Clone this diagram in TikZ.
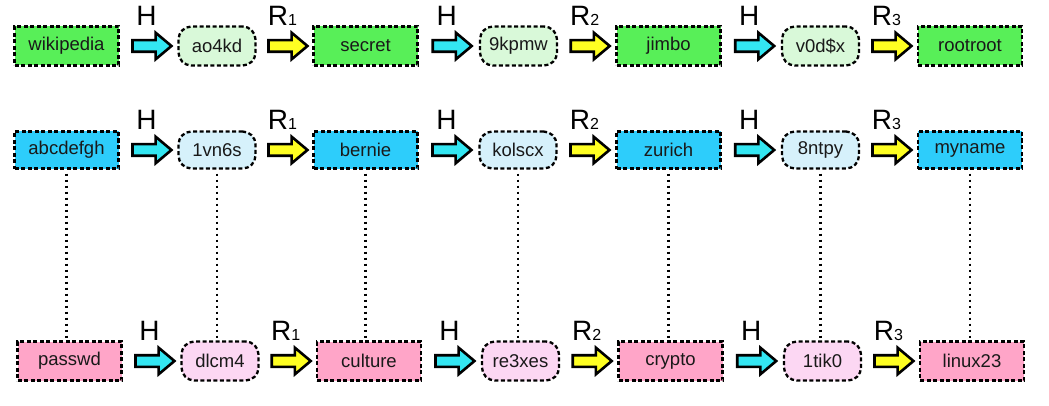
\documentclass[tikz,border=0pt]{standalone}
\usepackage{fontspec}
\setmainfont{Liberation Sans}
\usetikzlibrary{shapes.arrows,calc}

\definecolor{pwgreen}{HTML}{58EF58}
\definecolor{hgreen}{HTML}{D9F9D9}
\definecolor{pwblue}{HTML}{2DCDFB}
\definecolor{hblue}{HTML}{D6F1FB}
\definecolor{pwpink}{HTML}{FFA5C8}
\definecolor{hpink}{HTML}{FCD7F3}
\definecolor{arrcyan}{HTML}{33E6F2}
\definecolor{arryellow}{HTML}{FFFF22}

\newcommand{\rlab}[1]{R{\fontsize{16}{16}\selectfont #1}}

\begin{document}
\begin{tikzpicture}[x=1pt,y=1pt,
	pwbox/.style={draw, line width=2.3pt, dash pattern=on 4pt off 2.5pt, minimum width=104pt, minimum height=39pt, inner sep=0pt, text=black!90, font=\fontsize{18.5}{20}\selectfont},
	hashbox/.style={pwbox, rounded corners=13pt, minimum width=77pt},
	harrow/.style={single arrow, draw, line width=2.6pt, fill=arrcyan, inner sep=4.5pt, minimum height=39pt, single arrow head extend=7.5pt, single arrow tip angle=80},
	rarrow/.style={harrow, fill=arryellow},
	lab/.style={font=\fontsize{28}{30}\selectfont, inner sep=0pt, label distance=13.5pt, xshift=-2pt},
	link/.style={line width=2.6pt, dash pattern=on 2.6pt off 3.4pt}]
	\useasboundingbox (0,0) rectangle (1049,405);
	% first chain
	\node[pwbox, fill=pwgreen] (a1) at (66.5,359) {wikipedia};
	\node[hashbox, fill=hgreen] (a2) at (217,359) {ao4kd};
	\node[pwbox, fill=pwgreen] (a3) at (365.5,359) {secret};
	\node[hashbox, fill=hgreen] (a4) at (518.5,359) {9kpmw};
	\node[pwbox, fill=pwgreen] (a5) at (668.5,359) {jimbo};
	\node[hashbox, fill=hgreen] (a6) at (820.5,359) {v0d\$x};
	\node[pwbox, fill=pwgreen] (a7) at (970,359) {rootroot};
	% second chain
	\node[pwbox, fill=pwblue, minimum height=37pt] (b1) at (66.5,255) {abcdefgh};
	\node[hashbox, fill=hblue, minimum height=37pt] (b2) at (217,255) {1vn6s};
	\node[pwbox, fill=pwblue, minimum height=37pt] (b3) at (365.5,255) {bernie};
	\node[hashbox, fill=hblue, minimum height=37pt] (b4) at (518,255) {kolscx};
	\node[pwbox, fill=pwblue, minimum height=37pt] (b5) at (668.5,255) {zurich};
	\node[hashbox, fill=hblue, minimum height=37pt] (b6) at (820.5,255) {8ntpy};
	\node[pwbox, fill=pwblue, minimum height=37pt] (b7) at (970,255) {myname};
	% third chain
	\node[pwbox, fill=pwpink] (c1) at (69.5,44) {passwd};
	\node[hashbox, fill=hpink] (c2) at (220,44) {dlcm4};
	\node[pwbox, fill=pwpink] (c3) at (369,44) {culture};
	\node[hashbox, fill=hpink] (c4) at (520.5,44) {re3xes};
	\node[pwbox, fill=pwpink] (c5) at (670.5,44) {crypto};
	\node[hashbox, fill=hpink] (c6) at (822.5,44) {1tik0};
	\node[pwbox, fill=pwpink] (c7) at (972,44) {linux23};
	% hash and reduce steps
	\node[harrow, label={[lab]above:H}] (ha1) at ($(a1.east)!0.5!(a2.west)$) {};
	\node[rarrow, label={[lab]above:\rlab{1}}] (ra1) at ($(a2.east)!0.5!(a3.west)$) {};
	\node[harrow, label={[lab]above:H}] (ha2) at ($(a3.east)!0.5!(a4.west)$) {};
	\node[rarrow, label={[lab]above:\rlab{2}}] (ra2) at ($(a4.east)!0.5!(a5.west)$) {};
	\node[harrow, label={[lab]above:H}] (ha3) at ($(a5.east)!0.5!(a6.west)$) {};
	\node[rarrow, label={[lab]above:\rlab{3}}] (ra3) at ($(a6.east)!0.5!(a7.west)$) {};
	\node[harrow, label={[lab]above:H}] (hb1) at ($(b1.east)!0.5!(b2.west)$) {};
	\node[rarrow, label={[lab]above:\rlab{1}}] (rb1) at ($(b2.east)!0.5!(b3.west)$) {};
	\node[harrow, label={[lab]above:H}] (hb2) at ($(b3.east)!0.5!(b4.west)$) {};
	\node[rarrow, label={[lab]above:\rlab{2}}] (rb2) at ($(b4.east)!0.5!(b5.west)$) {};
	\node[harrow, label={[lab]above:H}] (hb3) at ($(b5.east)!0.5!(b6.west)$) {};
	\node[rarrow, label={[lab]above:\rlab{3}}] (rb3) at ($(b6.east)!0.5!(b7.west)$) {};
	\node[harrow, label={[lab]above:H}] (hc1) at ($(c1.east)!0.5!(c2.west)$) {};
	\node[rarrow, label={[lab]above:\rlab{1}}] (rc1) at ($(c2.east)!0.5!(c3.west)$) {};
	\node[harrow, label={[lab]above:H}] (hc2) at ($(c3.east)!0.5!(c4.west)$) {};
	\node[rarrow, label={[lab]above:\rlab{2}}] (rc2) at ($(c4.east)!0.5!(c5.west)$) {};
	\node[harrow, label={[lab]above:H}] (hc3) at ($(c5.east)!0.5!(c6.west)$) {};
	\node[rarrow, label={[lab]above:\rlab{3}}] (rc3) at ($(c6.east)!0.5!(c7.west)$) {};
	% links between chains
	\draw[link] ([yshift=-4pt]b1.south) -- (b1.south |- c1.north);
	\draw[link] ([yshift=-4pt]b2.south) -- (b2.south |- c2.north);
	\draw[link] ([yshift=-4pt]b3.south) -- (b3.south |- c3.north);
	\draw[link] ([yshift=-4pt]b4.south) -- (b4.south |- c4.north);
	\draw[link] ([yshift=-4pt]b5.south) -- (b5.south |- c5.north);
	\draw[link] ([yshift=-4pt]b6.south) -- (b6.south |- c6.north);
	\draw[link] ([yshift=-4pt]b7.south) -- (b7.south |- c7.north);
\end{tikzpicture}
\end{document}
